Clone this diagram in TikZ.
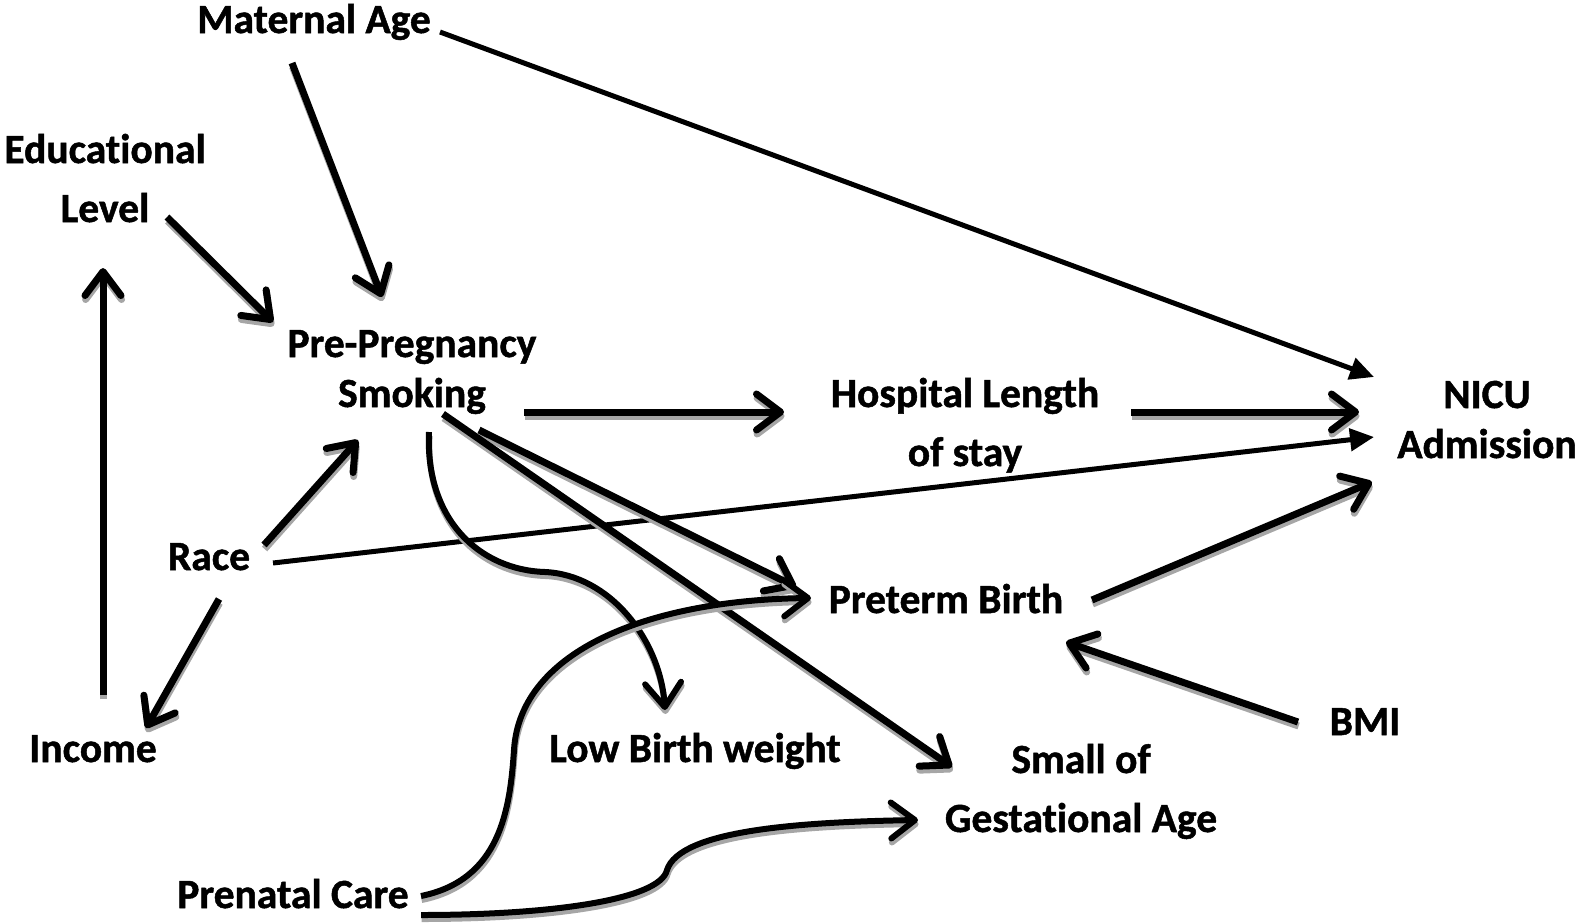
\documentclass[tikz,border=0pt]{standalone}
\usepackage{fontspec}
\setmainfont{Carlito}[BoldFont={Carlito Bold}, BoldFeatures={FakeBold=1.2}, Ligatures=NoCommon]
\usetikzlibrary{arrows.meta}
\definecolor{shadowgray}{HTML}{A6A6A6}
\tikzset{
  lbl/.style={font=\fontsize{41.5}{50}\selectfont\bfseries, inner sep=0pt, anchor=base, align=center},
  barb/.style={line width=7pt, -{Straight Barb[length=24pt,width=36pt,round]}},
  cbarb/.style={line width=6pt, -{Straight Barb[length=24pt,width=36pt,round]}},
  tri/.style={line width=5pt, -{Triangle[length=24pt,width=22pt]}},
  shadowed/.style={draw=shadowgray}
}
% connector with a grey drop shadow
\newcommand{\shconn}[2]{%
  \begin{scope}[transform canvas={shift={(0.6pt,-4pt)}}]\draw[#1,shadowed] #2;\end{scope}%
  \draw[#1] #2;}
\begin{document}
\begin{tikzpicture}[x=1pt,y=-1pt]
\useasboundingbox (0,0) rectangle (1580,922);
% nodes (position = centre x, baseline of last line)
\node[lbl] (ma)   at (314,33)  {Maternal Age};
\node[lbl] (edu)  at (105,222) {Educational\\[9pt]Level};
\node[lbl] (pps)  at (412,407) {Pre-Pregnancy\\Smoking};
\node[lbl] (hos)  at (965,466) {Hospital Length\\[9pt]of stay};
\node[lbl] (nicu) at (1487,458) {NICU\\Admission};
\node[lbl] (race) at (209,570) {Race};
\node[lbl] (ptb)  at (946,613) {Preterm Birth};
\node[lbl] (bmi)  at (1365,735) {BMI};
\node[lbl] (inc)  at (93,762)  {Income};
\node[lbl] (lbw)  at (695,762) {Low Birth weight};
\node[lbl] (sga)  at (1081,832) {Small of\\[9pt]Gestational Age};
\node[lbl] (pnc)  at (293,908) {Prenatal Care};
% connectors without shadow
\draw[tri]  ([shift={(126,-1)}]ma.base) -- ([shift={(-113,-81)}]nicu.base);
\draw[tri]  ([shift={(64,-7)}]race.base) -- ([shift={(-113,-21)}]nicu.base);
% connectors with shadow
\shconn{barb}{([shift={(-22,30)}]ma.base) -- ([shift={(-30,-110)}]pps.base)}
\shconn{barb}{([shift={(62,-5)}]edu.base) -- ([shift={(-139,-85)}]pps.base)}
\shconn{barb}{([shift={(10,-67)}]inc.base) -- ([shift={(-2,46)}]edu.base)}
\shconn{barb}{([shift={(55,-25)}]race.base) -- ([shift={(-54,33)}]pps.base)}
\shconn{barb}{([shift={(10,29)}]race.base) -- ([shift={(53,-34)}]inc.base)}
\shconn{barb}{([shift={(112,5)}]pps.base) -- ([shift={(-181,-54)}]hos.base)}
\shconn{barb}{([shift={(166,-54)}]hos.base) -- ([shift={(-128,-46)}]nicu.base)}
\shconn{barb}{([shift={(67,23)}]pps.base) -- ([shift={(-150,-26)}]ptb.base)}
\shconn{barb}{([shift={(31,7)}]pps.base) -- ([shift={(-129,-65)}]sga.base)}
\shconn{cbarb}{([shift={(17,25)}]pps.base) .. controls (425,520) and (480,570) .. (545,572)
   .. controls (610,575) and (660,640) .. ([shift={(-30,-52)}]lbw.base)}
\shconn{cbarb}{([shift={(128,-12)}]pnc.base) .. controls (500,880) and (510,810) .. (514,750)
   .. controls (520,650) and (650,600) .. ([shift={(-135,-15)}]ptb.base)}
\shconn{cbarb}{([shift={(128,7)}]pnc.base) .. controls (550,915) and (660,900) .. (667,870)
   .. controls (680,830) and (800,822) .. ([shift={(-163,-12)}]sga.base)}
\shconn{barb}{([shift={(146,-13)}]ptb.base) -- ([shift={(-115,24)}]nicu.base)}
\shconn{barb}{([shift={(-67,-13)}]bmi.base) -- ([shift={(120,29)}]ptb.base)}
\end{tikzpicture}
\end{document}
